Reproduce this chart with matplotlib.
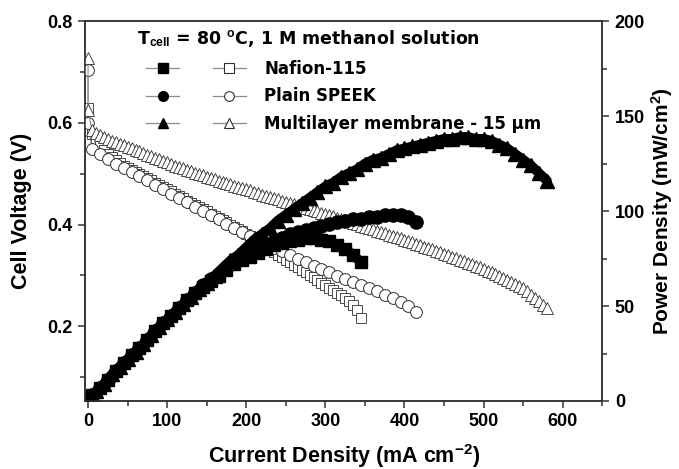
import matplotlib
matplotlib.use("Agg")
import matplotlib.pyplot as plt
from matplotlib.lines import Line2D
from matplotlib.legend_handler import HandlerTuple
from matplotlib.ticker import MultipleLocator

plt.rcParams['font.family'] = ['Liberation Sans', 'DejaVu Sans']
plt.rcParams['font.weight'] = 'bold'
plt.rcParams['axes.labelweight'] = 'bold'
plt.rcParams['mathtext.fontset'] = 'custom'
plt.rcParams['mathtext.rm'] = 'Liberation Sans:bold'
plt.rcParams['mathtext.bf'] = 'Liberation Sans:bold'
plt.rcParams['mathtext.it'] = 'Liberation Sans:bold'

# current steps (mA cm-2) -- the cell was run at fixed current increments
i_ml_v = [0, 0] + list(range(5, 585, 5))
i_naf_v = [0] + list(range(5, 350, 5))
i_sp_v = [0, 0] + list(range(5, 425, 10))

i_ml_p = list(range(0, 590, 10))
i_naf_p = list(range(5, 355, 10))
i_sp_p = list(range(5, 425, 10))

# cell voltage (V)
v_ml = [0.728, 0.625,
        0.585, 0.580, 0.576, 0.572, 0.568, 0.565, 0.562, 0.559, 0.556, 0.553,
        0.550, 0.547, 0.544, 0.540, 0.537, 0.534, 0.531, 0.528, 0.525, 0.522,
        0.519, 0.516, 0.514, 0.511, 0.508, 0.505, 0.502, 0.500, 0.497, 0.494,
        0.491, 0.489, 0.486, 0.484, 0.481, 0.479, 0.476, 0.474, 0.471, 0.469,
        0.467, 0.464, 0.462, 0.459, 0.457, 0.455, 0.452, 0.450, 0.447, 0.445,
        0.443, 0.440, 0.438, 0.435, 0.433, 0.431, 0.428, 0.426, 0.423, 0.421,
        0.418, 0.416, 0.413, 0.411, 0.408, 0.406, 0.403, 0.401, 0.398, 0.396,
        0.393, 0.391, 0.388, 0.385, 0.383, 0.380, 0.378, 0.375, 0.373, 0.370,
        0.367, 0.365, 0.362, 0.359, 0.356, 0.354, 0.351, 0.348, 0.346, 0.343,
        0.340, 0.337, 0.334, 0.331, 0.328, 0.325, 0.322, 0.319, 0.316, 0.313,
        0.309, 0.306, 0.302, 0.298, 0.294, 0.290, 0.287, 0.283, 0.279, 0.275,
        0.269, 0.262, 0.256, 0.249, 0.242, 0.235]

v_naf = [0.629,
         0.578, 0.565, 0.554, 0.546, 0.539, 0.533, 0.527, 0.521, 0.516, 0.512,
         0.507, 0.503, 0.499, 0.495, 0.491, 0.487, 0.482, 0.478, 0.474, 0.469,
         0.465, 0.460, 0.456, 0.452, 0.447, 0.443, 0.439, 0.434, 0.430, 0.426,
         0.421, 0.417, 0.413, 0.408, 0.404, 0.400, 0.396, 0.391, 0.387, 0.382,
         0.377, 0.372, 0.367, 0.362, 0.357, 0.351, 0.346, 0.341, 0.336, 0.331,
         0.326, 0.321, 0.316, 0.311, 0.306, 0.301, 0.296, 0.291, 0.286, 0.281,
         0.276, 0.271, 0.266, 0.261, 0.255, 0.249, 0.241, 0.231, 0.217]

v_sp = [0.703, 0.600,
        0.548, 0.538, 0.529, 0.520, 0.512, 0.503, 0.495, 0.487, 0.478, 0.470,
        0.461, 0.452, 0.444, 0.435, 0.427, 0.418, 0.410, 0.401, 0.393, 0.385,
        0.377, 0.369, 0.361, 0.354, 0.347, 0.340, 0.333, 0.326, 0.319, 0.312,
        0.306, 0.299, 0.293, 0.287, 0.281, 0.275, 0.269, 0.262, 0.255, 0.248,
        0.240, 0.228]

# power density (mW/cm2)
p_ml = [1, 5, 9, 14, 18, 22, 26, 30, 35, 39, 43, 47, 51, 55, 59, 62, 66, 70,
        74, 77, 81, 85, 88, 91, 95, 98, 101, 104, 107, 110, 113, 115, 118, 120,
        122, 125, 127, 128, 130, 132, 133, 134, 135, 136, 137, 138, 138, 139,
        139, 138, 138, 137, 135, 133, 130, 127, 124, 120, 116]

p_naf = [3, 7, 11, 16, 20, 24, 28, 32, 37, 41, 45, 49, 53, 57, 60, 63, 66, 69,
         72, 74, 76, 78, 80, 82, 83, 84, 85, 86, 86, 85, 84, 82, 80, 77, 73]

p_sp = [3, 7, 11, 16, 20, 24, 28, 32, 37, 41, 45, 49, 53, 57, 61, 64, 67, 70,
        73, 76, 78, 80, 82, 84, 86, 88, 89, 90, 91, 92, 93, 94, 95, 96, 96, 97,
        97, 98, 98, 98, 97, 94]

labels = ['Nafion-115', 'Plain SPEEK', 'Multilayer membrane - 15 μm']
marks = ['s', 'o', '^']
line_c = '#8c8c8c'
edge_c = '#2e2e2e'
wide = ['DejaVu Sans']

fig = plt.figure(figsize=(6.79, 4.69), dpi=100)
ax = fig.add_axes([0.125, 0.145, 0.762, 0.81])
ax2 = ax.twinx()

# voltage curves, open symbols
ax.plot(i_naf_v, v_naf, marker='s', ms=6.5, mfc='white', mec=edge_c, mew=0.6,
        color=line_c, lw=0.8, zorder=3)
ax.plot(i_sp_v, v_sp, marker='o', ms=8.5, mfc='white', mec=edge_c, mew=0.7,
        color=line_c, lw=0.8, zorder=3)
ax.plot(i_ml_v, v_ml, marker='^', ms=9, mfc='white', mec=edge_c, mew=0.6,
        color=line_c, lw=0.8, zorder=3)

# power curves, filled symbols over a thick trace
for cur, pw, m, s in [(i_naf_p, p_naf, 's', 8), (i_sp_p, p_sp, 'o', 9.5),
                      (i_ml_p, p_ml, '^', 9.5)]:
    ax2.plot(cur, pw, color='black', lw=7, solid_capstyle='round',
             solid_joinstyle='round')
    ax2.plot(cur, pw, marker=m, ms=s, color='black', lw=0)

ax.set_xlim(-4, 650)
ax.set_ylim(0.053, 0.8)
ax2.set_ylim(0, 200)

ax.xaxis.set_major_locator(MultipleLocator(100))
ax.xaxis.set_minor_locator(MultipleLocator(50))
ax.yaxis.set_major_locator(MultipleLocator(0.2))
ax.yaxis.set_minor_locator(MultipleLocator(0.1))
ax2.yaxis.set_major_locator(MultipleLocator(50))
ax2.yaxis.set_minor_locator(MultipleLocator(25))

for a in (ax, ax2):
    a.tick_params(which='major', direction='out', length=5, width=1.1,
                  labelsize=13, color='#333333', pad=4)
    a.tick_params(which='minor', direction='out', length=3.5, width=1.1,
                  color='#333333')
    for s in a.spines.values():
        s.set_linewidth(1.1)
        s.set_color('#333333')
    for t in a.get_xticklabels() + a.get_yticklabels():
        t.set_fontweight('bold')
ax.yaxis.set_major_formatter(plt.FuncFormatter(lambda v, p: '%.1f' % v))

ax.set_xlabel(r'Current Density (mA cm$^{-2}$)', fontsize=15.5, labelpad=8)
ax.set_ylabel('Cell Voltage (V)', fontsize=15.5, labelpad=11)
ax2.set_ylabel(r'Power Density (mW/cm$^{2}$)', fontsize=15, labelpad=3)

ax.text(0.1, 0.955, r'T$_{cell}$ = 80 $^{o}$C, 1 M methanol solution',
        transform=ax.transAxes, fontsize=12.5, va='center', ha='left',
        family=wide)

handles = []
for m in marks:
    full = Line2D([], [], marker=m, ms=7, color=line_c, lw=0.9,
                  mfc='black', mec='black')
    empty = Line2D([], [], marker=m, ms=7, color=line_c, lw=0.9,
                   mfc='white', mec=edge_c, mew=0.8)
    handles.append((full, empty))
ax.legend(handles, labels, handler_map={tuple: HandlerTuple(ndivide=None, pad=2.0)},
          loc='upper left', bbox_to_anchor=(0.118, 0.897), frameon=False,
          prop={'family': wide, 'size': 12, 'weight': 'bold'},
          handlelength=6.0, handletextpad=1.1, labelspacing=0.55,
          borderpad=0, borderaxespad=0)

fig.savefig('out.png', dpi=100)
